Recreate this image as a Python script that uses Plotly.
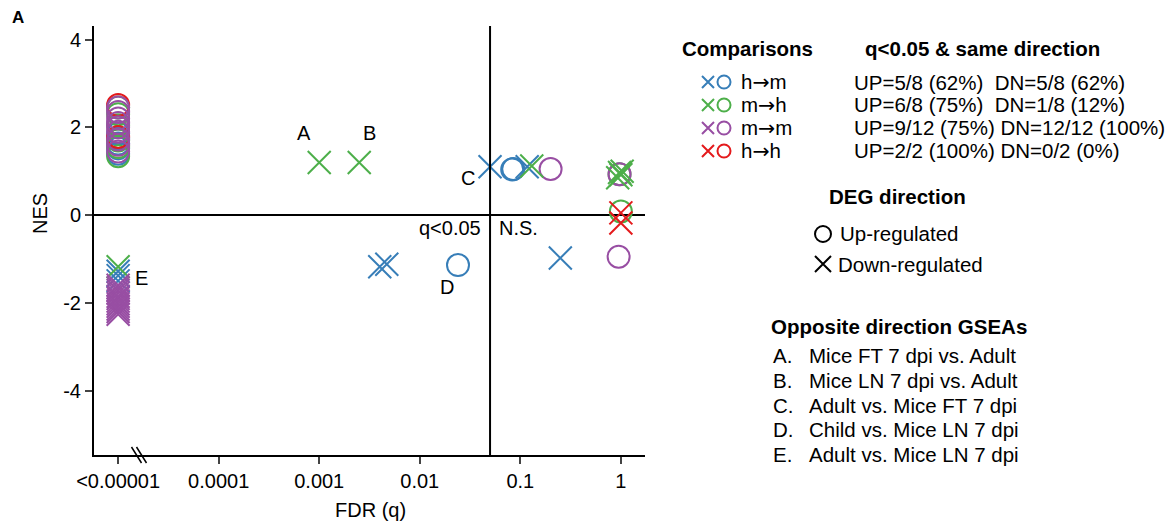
import math
import plotly.graph_objects as go

W, H = 1170, 526
FONT = "Liberation Sans, Arial, sans-serif"

# ---------------- data ----------------
comparisons = ["h→m", "m→h", "m→m", "h→h"]
colors = ["#377EB8", "#4DAF4A", "#984EA3", "#E41A1C"]
stats = ["UP=5/8 (62%)  DN=5/8 (62%)",
         "UP=6/8 (75%)  DN=1/8 (12%)",
         "UP=9/12 (75%) DN=12/12 (100%)",
         "UP=2/2 (100%) DN=0/2 (0%)"]

# Up-regulated DEG sets (circles): FDR q and NES
hm_up_q = [1e-5, 1e-5, 1e-5, 1e-5, 1e-5, 0.024, 0.085, 0.083]
hm_up_nes = [1.40, 1.52, 1.63, 1.75, 1.86, -1.14, 1.05, 1.04]
mh_up_q = [1e-5, 1e-5, 1e-5, 1e-5, 1e-5, 1e-5, 1.0, 0.97]
mh_up_nes = [1.34, 1.55, 1.70, 2.05, 2.30, 2.45, 0.08, 0.93]
mm_up_q = [1e-5] * 9 + [0.2, 0.97, 0.95]
mm_up_nes = [1.45, 1.60, 1.72, 1.90, 2.00, 2.10, 2.20, 2.35, 2.45, 1.05, 0.93, -0.95]
hh_up_q = [1e-5, 1e-5]
hh_up_nes = [1.78, 2.51]

# Down-regulated DEG sets (crosses)
hm_dn_q = [1e-5, 1e-5, 1e-5, 0.004, 0.0047, 0.05, 0.117, 0.25]
hm_dn_nes = [-1.28, -1.38, -1.50, -1.18, -1.12, 1.10, 1.10, -0.98]
mh_dn_q = [1e-5, 0.001, 0.0025, 0.13, 0.93, 1.0, 0.97, 1.03]
mh_dn_nes = [-1.18, 1.20, 1.20, 1.12, 0.85, 0.92, 0.97, 1.00]
mm_dn_q = [1e-5] * 12
mm_dn_nes = [-1.60, -1.66, -1.72, -1.78, -1.85, -1.90, -1.96, -2.02, -2.08, -2.14, -2.20, -2.26]
hh_dn_q = [1.0, 1.0]
hh_dn_nes = [0.05, -0.18]

up_q = [hm_up_q, mh_up_q, mm_up_q, hh_up_q]
up_nes = [hm_up_nes, mh_up_nes, mm_up_nes, hh_up_nes]
dn_q = [hm_dn_q, mh_dn_q, mm_dn_q, hh_dn_q]
dn_nes = [hm_dn_nes, mh_dn_nes, mm_dn_nes, hh_dn_nes]

x_tickvals = [1e-5, 1e-4, 1e-3, 1e-2, 1e-1, 1]
x_ticktext = ["<0.00001", "0.0001", "0.001", "0.01", "0.1", "1"]
y_tickvals = [4, 2, 0, -2, -4]
y_ticktext = ["4", "2", "0", "-2", "-4"]
q_threshold = 0.05

# opposite-direction labels attached to points
opp_labels = [("A", 0.001, 1.20), ("B", 0.0025, 1.20), ("C", 0.05, 1.10),
              ("D", 0.024, -1.14), ("E", 1e-5, -1.38)]
opp_offsets = [(-15, -29), (10, -29), (-22, 11), (-11, 22), (23, 2)]
opp_text = ["Mice FT 7 dpi vs. Adult", "Mice LN 7 dpi vs. Adult",
            "Adult vs. Mice FT 7 dpi", "Child vs. Mice LN 7 dpi",
            "Adult vs. Mice LN 7 dpi"]

# ---------------- layout geometry (pixels) ----------------
PL, PR, PT, PB = 94, 645, 26, 455
FS = 20.5


def fx(px):
    return px / W


def fy(py):
    return 1 - py / H


fig = go.Figure()

# circles: blue, green, red, then purple on top
for i in [0, 1, 3, 2]:
    fig.add_trace(go.Scatter(
        x=up_q[i], y=up_nes[i], mode="markers", showlegend=False,
        marker=dict(symbol="circle-open", size=22, color=colors[i],
                    line=dict(width=2, color=colors[i])),
        xaxis="x", yaxis="y"))
for i in range(4):
    fig.add_trace(go.Scatter(
        x=dn_q[i], y=dn_nes[i], mode="markers", showlegend=False,
        marker=dict(symbol="x-thin-open", size=23, color=colors[i],
                    line=dict(width=2, color=colors[i])),
        xaxis="x", yaxis="y"))

# legend markers on a full-figure pixel axis
row_y = [82, 105, 128, 151]
for i in range(4):
    fig.add_trace(go.Scatter(
        x=[708], y=[row_y[i]], mode="markers", showlegend=False,
        marker=dict(symbol="x-thin-open", size=12, color=colors[i],
                    line=dict(width=2, color=colors[i])),
        xaxis="x2", yaxis="y2", hoverinfo="skip"))
    fig.add_trace(go.Scatter(
        x=[724], y=[row_y[i]], mode="markers", showlegend=False,
        marker=dict(symbol="circle-open", size=13, color=colors[i],
                    line=dict(width=2, color=colors[i])),
        xaxis="x2", yaxis="y2", hoverinfo="skip"))
fig.add_trace(go.Scatter(
    x=[823], y=[234], mode="markers", showlegend=False,
    marker=dict(symbol="circle-open", size=16, color="black", line=dict(width=2, color="black")),
    xaxis="x2", yaxis="y2", hoverinfo="skip"))
fig.add_trace(go.Scatter(
    x=[823], y=[264], mode="markers", showlegend=False,
    marker=dict(symbol="x-thin-open", size=16, color="black", line=dict(width=2, color="black")),
    xaxis="x2", yaxis="y2", hoverinfo="skip"))

ann = []


def text(x, y, s, size=FS, bold=False, xanchor="center", yanchor="middle"):
    ann.append(dict(x=fx(x), y=fy(y), xref="paper", yref="paper", text=("<b>%s</b>" % s) if bold else s,
                    showarrow=False, xanchor=xanchor, yanchor=yanchor,
                    font=dict(family=FONT, size=size, color="black")))


text(18, 18, "A", size=17, bold=True)
ann.append(dict(x=fx(40), y=fy(214), xref="paper", yref="paper", text="NES", textangle=-90,
                showarrow=False, xanchor="center", yanchor="middle",
                font=dict(family=FONT, size=20, color="black")))
text(370, 510, "FDR (q)", size=20)
text(483, 228, "q<0.05", size=20, xanchor="right")
text(497, 228, "N.S.", size=20, xanchor="left")

for (lab, q, nes), (dx, dy) in zip(opp_labels, opp_offsets):
    ann.append(dict(x=math.log10(q), y=nes, xref="x", yref="y", text=lab, showarrow=False,
                    xshift=dx, yshift=-dy, xanchor="center", yanchor="middle",
                    font=dict(family=FONT, size=20, color="black")))

ARROW = "<span style=\"font-family:'DejaVu Sans'\">→</span>"
text(680, 48, "Comparisons", bold=True, xanchor="left")
text(863, 48, "q<0.05 &amp; same direction", bold=True, xanchor="left")
for i in range(4):
    text(739, row_y[i], comparisons[i].replace("→", ARROW), xanchor="left")
    text(852, row_y[i], stats[i].replace("  ", "&nbsp; "), xanchor="left")
text(827, 197, "DEG direction", bold=True, xanchor="left")
text(838, 234, "Up-regulated", xanchor="left")
text(836, 264, "Down-regulated", xanchor="left")
text(769, 326, "Opposite direction GSEAs", bold=True, xanchor="left")
list_y = [355, 380, 405, 429, 454]
for k in range(5):
    text(771, list_y[k], opp_labels[k][0] + ".", xanchor="left")
    text(807, list_y[k], opp_text[k], xanchor="left")

shapes = [
    dict(type="line", xref="x", yref="y domain", x0=q_threshold, x1=q_threshold, y0=0, y1=1,
         line=dict(color="black", width=2)),
    dict(type="line", xref="paper", yref="paper", x0=fx(131.5), y0=fy(447), x1=fx(141.5), y1=fy(463),
         line=dict(color="black", width=1.5)),
    dict(type="line", xref="paper", yref="paper", x0=fx(136.5), y0=fy(447), x1=fx(146.5), y1=fy(463),
         line=dict(color="black", width=1.5)),
]

fig.update_layout(
    width=W, height=H, margin=dict(l=0, r=0, t=0, b=0),
    paper_bgcolor="white", plot_bgcolor="rgba(0,0,0,0)",
    font=dict(family=FONT, size=20, color="black"),
    showlegend=False,
    annotations=ann, shapes=shapes,
    xaxis=dict(type="log", domain=[fx(PL), fx(PR)], range=[-5.24, 0.24], anchor="y",
               tickvals=x_tickvals, ticktext=x_ticktext, ticks="outside", ticklen=7,
               tickwidth=1.5, tickcolor="#444", showgrid=False, zeroline=False,
               showline=True, linecolor="black", linewidth=2, automargin=False,
               tickfont=dict(family=FONT, size=20, color="black")),
    yaxis=dict(domain=[fy(PB), fy(PT)], range=[-5.47, 4.31], anchor="x",
               tickvals=y_tickvals, ticktext=y_ticktext, ticks="outside", ticklen=7,
               tickwidth=1.5, tickcolor="#444",
               showgrid=False, zeroline=True, zerolinecolor="black", zerolinewidth=2,
               showline=True, linecolor="black", linewidth=2, automargin=False,
               tickfont=dict(family=FONT, size=20, color="black")),
    xaxis2=dict(domain=[0, 1], range=[0, W], anchor="y2", visible=False, fixedrange=True),
    yaxis2=dict(domain=[0, 1], range=[H, 0], anchor="x2", visible=False, fixedrange=True),
)

fig.write_html("out.html")
